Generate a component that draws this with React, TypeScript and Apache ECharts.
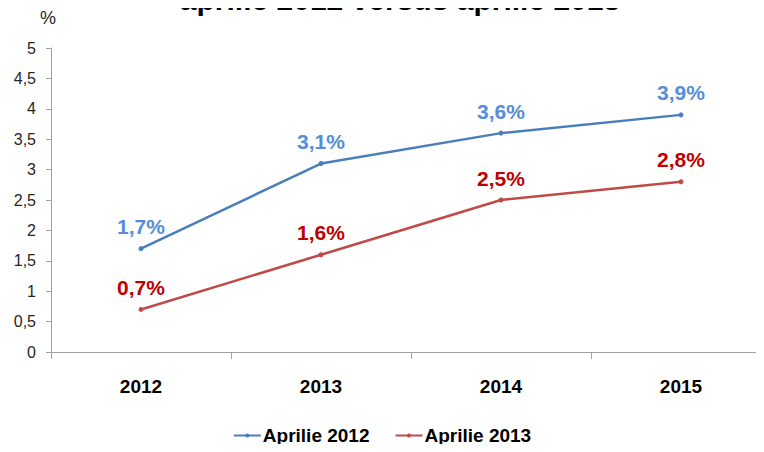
import React, { useEffect, useRef } from "react";
import * as echarts from "echarts";

const years = ["2012", "2013", "2014", "2015"];
const aprilie2012 = [1.7, 3.1, 3.6, 3.9];
const aprilie2013 = [0.7, 1.6, 2.5, 2.8];
const seriesNames = ["Aprilie 2012", "Aprilie 2013"];
const titleText = "aprilie 2012 versus aprilie 2013";
const yUnit = "%";

const fmt = (v: number) => String(v).replace(".", ",");
const FONT = "'Liberation Sans', Arial, sans-serif";

export default function App() {
  const ref = useRef<HTMLDivElement>(null);
  useEffect(() => {
    if (!ref.current) return;
    const chart = echarts.init(ref.current, null, { renderer: "svg" });
    chart.setOption({
      animation: false,
      backgroundColor: "#ffffff",
      textStyle: { fontFamily: FONT },
      graphic: [
        {
          type: "text",
          x: 400,
          y: 14,
          style: {
            text: titleText,
            textAlign: "center",
            textVerticalAlign: "bottom",
            font: `bold 30px ${FONT}`,
            fill: "#000000",
          },
        },
        {
          type: "text",
          x: 48,
          y: 18,
          style: {
            text: yUnit,
            textAlign: "center",
            textVerticalAlign: "middle",
            font: `18px ${FONT}`,
            fill: "#262626",
          },
        },
      ],
      legend: {
        bottom: 2,
        left: "center",
        itemGap: 25,
        itemWidth: 27,
        itemHeight: 5,
        textStyle: { fontSize: 19, fontWeight: "bold", color: "#000", fontFamily: FONT, padding: [0, 0, 0, -3] },
        data: seriesNames,
      },
      grid: { left: 51, top: 48, width: 720, height: 304, outerBoundsMode: "none", containLabel: false },
      xAxis: {
        type: "category",
        data: years,
        boundaryGap: true,
        axisLine: { lineStyle: { color: "#a0a0a0", width: 1 } },
        axisTick: { show: true, length: 7, lineStyle: { color: "#a0a0a0" } },
        axisLabel: { fontSize: 19, fontWeight: "bold", color: "#000", margin: 25, fontFamily: FONT },
      },
      yAxis: {
        type: "value",
        min: 0,
        max: 5,
        interval: 0.5,
        splitLine: { show: false },
        axisLine: { show: true, lineStyle: { color: "#a0a0a0", width: 1 } },
        axisTick: { show: true, length: 5, lineStyle: { color: "#a0a0a0" } },
        axisLabel: {
          fontSize: 16,
          color: "#262626",
          margin: 15,
          fontFamily: FONT,
          formatter: (v: number) => fmt(v),
        },
      },
      series: [
        {
          name: seriesNames[0],
          type: "line",
          data: aprilie2012,
          symbol: "circle",
          symbolSize: 5,
          color: "#4a7ebb",
          lineStyle: { width: 2.5, color: "#4a7ebb" },
          label: {
            show: true,
            position: "top",
            distance: 9,
            fontSize: 21,
            fontWeight: "bold",
            color: "#558ed5",
            fontFamily: FONT,
            formatter: (p: any) => fmt(p.value) + "%",
          },
        },
        {
          name: seriesNames[1],
          type: "line",
          data: aprilie2013,
          symbol: "circle",
          symbolSize: 5,
          color: "#be4b48",
          lineStyle: { width: 2.5, color: "#be4b48" },
          label: {
            show: true,
            position: "top",
            distance: 9,
            fontSize: 21,
            fontWeight: "bold",
            color: "#c00000",
            fontFamily: FONT,
            formatter: (p: any) => fmt(p.value) + "%",
          },
        },
      ],
    });
    return () => chart.dispose();
  }, []);
  return (
    <div style={{ width: 764, height: 452, margin: -8, overflow: "hidden" }}>
      <div ref={ref} style={{ width: 764, height: 452 }} />
    </div>
  );
}
